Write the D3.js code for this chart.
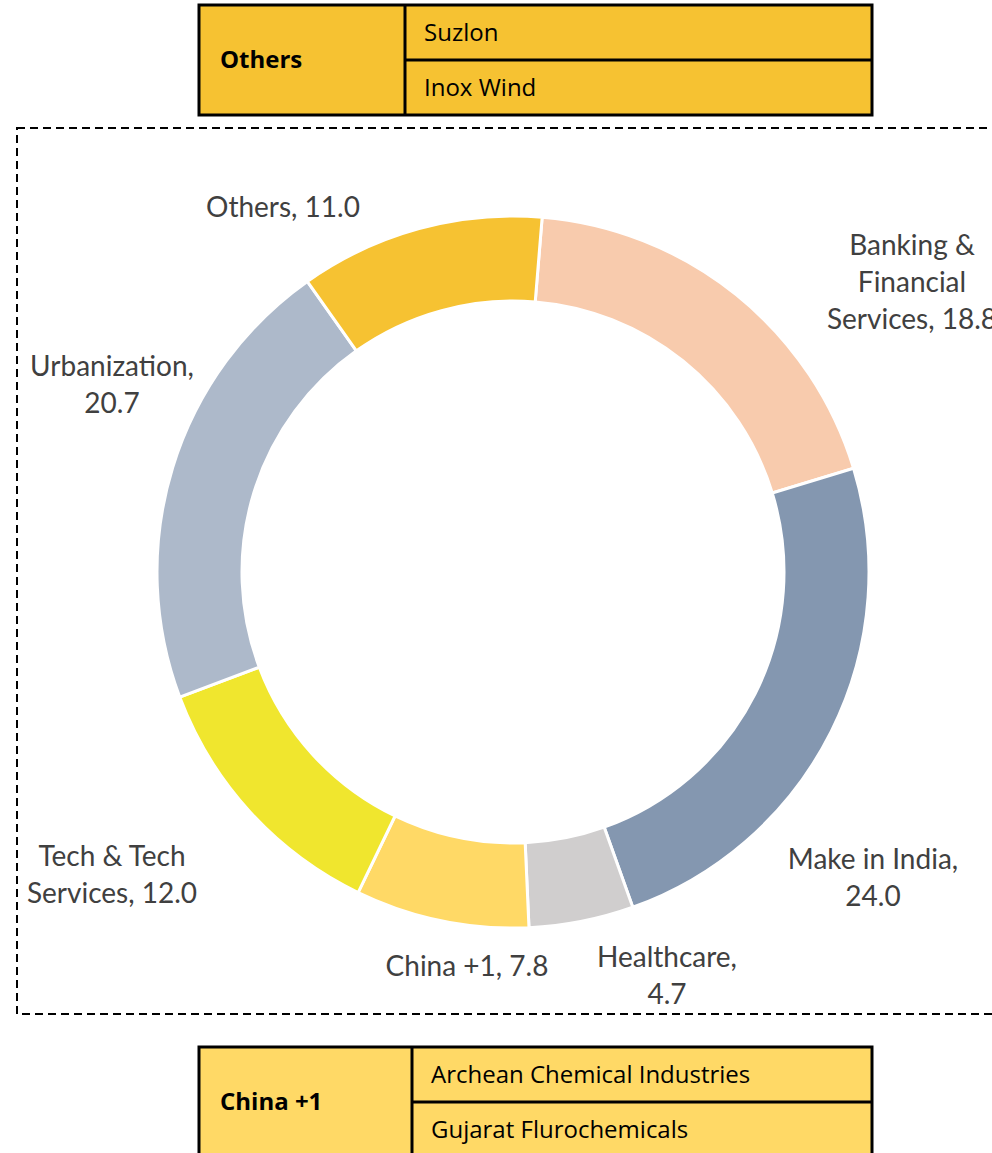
<!DOCTYPE html>
<html>
<head>
<meta charset="utf-8">
<script src="https://cdn.jsdelivr.net/npm/d3@7"></script>
<style>
  body { margin: 0; background: #fff; overflow: hidden; }
  svg { display: block; }
</style>
</head>
<body>
<div id="chart"></div>
<script>
// themes and their weights (clockwise from the top)
const themes = ['Banking & Financial Services', 'Make in India', 'Healthcare', 'China +1',
  'Tech & Tech Services', 'Urbanization', 'Others'];
const weights = [18.8, 24.0, 4.7, 7.8, 12.0, 20.7, 11.0];
const colors = ['#F8CBAD', '#8497B0', '#D0CECE', '#FFD966', '#F0E62E', '#ADB9CA', '#F6C232'];

// label lines per theme
const labelLines = [
  ['Banking &', 'Financial', 'Services, 18.8'],
  ['Make in India,', '24.0'],
  ['Healthcare,', '4.7'],
  ['China +1, 7.8'],
  ['Tech & Tech', 'Services, 12.0'],
  ['Urbanization,', '20.7'],
  ['Others, 11.0']
];
const labelPos = [[912, 245], [873, 859], [667, 957], [467, 966], [112, 856], [112, 366], [283, 207]];

// stock tables
const topGroup = 'Others';
const topStocks = ['Suzlon', 'Inox Wind'];
const bottomGroup = 'China +1';
const bottomStocks = ['Archean Chemical Industries', 'Gujarat Flurochemicals'];

const width = 992, height = 1153;
const svg = d3.select('#chart').append('svg')
  .attr('width', width)
  .attr('height', height);

// dashed frame
svg.append('rect')
  .attr('x', 17).attr('y', 128)
  .attr('width', 1000).attr('height', 886)
  .attr('fill', 'none')
  .attr('stroke', '#000')
  .attr('stroke-width', 2)
  .attr('stroke-dasharray', '8,5');

// donut
const cx = 513, cy = 572;
const outerR = 356, innerR = 271;
const startAngle = 4.7 * Math.PI / 180;

const pie = d3.pie()
  .sort(null)
  .startAngle(startAngle)
  .endAngle(startAngle + 2 * Math.PI)
  .value(d => d);

const arc = d3.arc().innerRadius(innerR).outerRadius(outerR);

const g = svg.append('g').attr('transform', `translate(${cx},${cy})`);
g.selectAll('path')
  .data(pie(weights))
  .enter()
  .append('path')
  .attr('d', arc)
  .attr('fill', (d, i) => colors[i])
  .attr('stroke', '#fff')
  .attr('stroke-width', 3);

// slice labels
const lineH = 37;
labelLines.forEach((lines, i) => {
  const [x, y] = labelPos[i];
  const t = svg.append('text')
    .attr('x', x)
    .attr('text-anchor', 'middle')
    .attr('font-family', 'Lato, "Open Sans", sans-serif')
    .attr('font-size', 28)
    .attr('fill', '#404040');
  lines.forEach((ln, j) => {
    t.append('tspan')
      .attr('x', x)
      .attr('y', y + j * lineH)
      .attr('dy', '0.35em')
      .text(ln);
  });
});

// stock tables
function drawTable(y0, rowH, splitX, fill, group, stocks) {
  const x0 = 199, x1 = 872;
  const tg = svg.append('g');
  const h = rowH * stocks.length;
  tg.append('rect')
    .attr('x', x0).attr('y', y0)
    .attr('width', x1 - x0).attr('height', h)
    .attr('fill', fill)
    .attr('stroke', '#000')
    .attr('stroke-width', 3);
  tg.append('line')
    .attr('x1', splitX).attr('x2', splitX)
    .attr('y1', y0).attr('y2', y0 + h)
    .attr('stroke', '#000').attr('stroke-width', 3);
  stocks.forEach((s, i) => {
    if (i > 0) {
      tg.append('line')
        .attr('x1', splitX).attr('x2', x1)
        .attr('y1', y0 + i * rowH).attr('y2', y0 + i * rowH)
        .attr('stroke', '#000').attr('stroke-width', 3);
    }
    tg.append('text')
      .attr('x', splitX + 19)
      .attr('y', y0 + i * rowH + rowH / 2)
      .attr('dy', '0.35em')
      .attr('font-family', '"Open Sans", sans-serif')
      .attr('font-size', 24)
      .attr('fill', '#000')
      .text(s);
  });
  tg.append('text')
    .attr('x', x0 + 21)
    .attr('y', y0 + h / 2)
    .attr('dy', '0.35em')
    .attr('font-family', '"Open Sans", sans-serif')
    .attr('font-weight', 'bold')
    .attr('font-size', 24)
    .attr('fill', '#000')
    .text(group);
}

drawTable(5, 55, 405, '#F6C232', topGroup, topStocks);
drawTable(1047, 55, 412, '#FFD966', bottomGroup, bottomStocks);
</script>
</body>
</html>
